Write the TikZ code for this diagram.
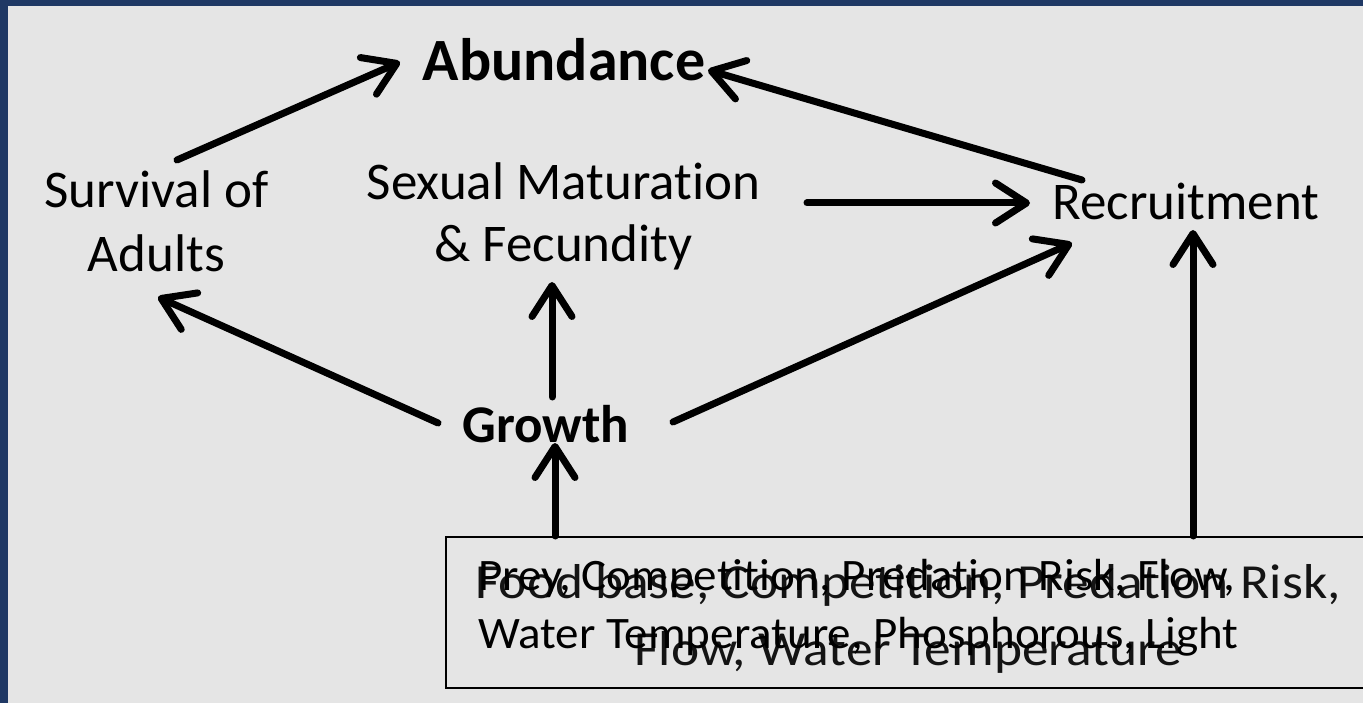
\documentclass[tikz,border=0pt]{standalone}
\usepackage{fontspec}
\setmainfont{Carlito}[Ligatures=NoCommon]
\usetikzlibrary{arrows.meta}
\definecolor{navyframe}{HTML}{1F3864}
\definecolor{slidebg}{HTML}{E5E5E5}
\begin{document}
\begin{tikzpicture}[x=1pt,y=-1pt,
  lbl/.style={inner sep=0pt, anchor=base, font=\fontsize{53}{64}\selectfont},
  boldlbl/.style={lbl, font=\fontsize{53}{64}\selectfont\bfseries},
  arr/.style={line width=7pt, line cap=round,
    -{Straight Barb[length=31pt,width=40pt,line cap=round,line join=round]}},
  factorbox/.style={draw, line width=2pt, inner sep=0pt, fill=slidebg,
    minimum width=929pt, minimum height=151pt}
]
\useasboundingbox (0,0) rectangle (1363,703);
\clip (0,0) rectangle (1363,703);
\fill[navyframe] (0,0) rectangle (1363,703);
\fill[slidebg] (8,6) rectangle (1363,703);

% nodes
\node[boldlbl, font=\fontsize{60}{72}\selectfont\bfseries] (abund) at (564,81) {Abundance};
\node[lbl] (surv) at (156.5,208) {\begin{tabular}[t]{@{}c@{}}Survival of\\Adults\end{tabular}};
\node[lbl, font=\fontsize{53}{62}\selectfont] (sex) at (563.5,200) {\begin{tabular}[t]{@{}c@{}}Sexual Maturation\\\& Fecundity\end{tabular}};
\node[lbl] (recr) at (1186,220) {Recruitment};
\node[boldlbl] (growth) at (546,442) {Growth};

\node[factorbox] (box) at (910.5,612.5) {};
\node[inner sep=0pt, anchor=base, text=black!92, font=\fontsize{49}{67}\selectfont] (food) at (908,598)
  {\scalebox{1.09}[1]{\begin{tabular}[t]{@{}c@{}}Food base, Competition, Predation Risk,\\Flow, Water Temperature\end{tabular}}};
\node[inner sep=0pt, anchor=base west, font=\fontsize{45}{58}\selectfont] (prey) at (478,590)
  {\scalebox{1.045}[1]{\begin{tabular}[t]{@{}l@{}}Prey, Competition, Predation Risk, Flow,\\Water Temperature, Phosphorous, Light\end{tabular}}};

% connectors
\draw[arr] ([shift={(20.5,-48)}]surv.base) -- ([shift={(-164,-19)}]abund.base);
\draw[arr] ([shift={(-104,-40)}]recr.base) -- ([shift={(144,-11)}]abund.base);
\draw[arr] ([shift={(243.5,3)}]sex.base) -- ([shift={(-156,-17)}]recr.base);
\draw[arr] ([shift={(127,-20)}]growth.base) -- ([shift={(-114,23)}]recr.base);
\draw[arr] ([shift={(6,-45)}]growth.base) -- ([shift={(-11.5,82)}]sex.base);
\draw[arr] ([shift={(-355.5,0)}]box.north) -- ([shift={(9,1)}]growth.base);
\draw[arr] ([shift={(-108,-19)}]growth.base) -- ([shift={(1.5,89)}]surv.base);
\draw[arr] ([shift={(282.5,0)}]box.north) -- ([shift={(7,10)}]recr.base);
\end{tikzpicture}
\end{document}
